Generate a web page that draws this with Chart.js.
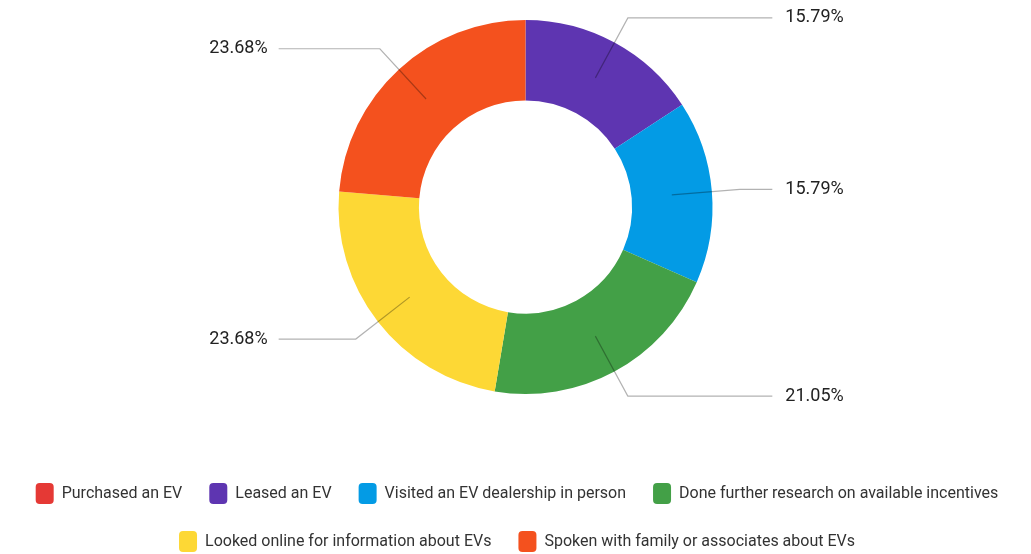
<!DOCTYPE html>
<html>
<head>
<meta charset="utf-8">
<title>EV actions</title>
<script src="https://cdn.jsdelivr.net/npm/chart.js@4.4.1/dist/chart.umd.min.js"></script>
<style>
  html, body { margin: 0; padding: 0; background: #fff; }
  #wrap { width: 1031px; height: 554px; }
</style>
</head>
<body>
<div id="wrap"><canvas id="ev-actions"></canvas></div>
<script>
const actions = [
  "Purchased an EV",
  "Leased an EV",
  "Visited an EV dealership in person",
  "Done further research on available incentives",
  "Looked online for information about EVs",
  "Spoken with family or associates about EVs"
];
// share of respondents, in %
const shares = [0, 15.79, 15.79, 21.05, 23.68, 23.68];
const colors = ["#e53935", "#5e35b1", "#039be5", "#43a047", "#fdd835", "#f4511e"];

// percentage labels with elbow leader lines
const leaderLabels = {
  id: "leaderLabels",
  afterDatasetsDraw(chart) {
    const ctx = chart.ctx;
    const meta = chart.getDatasetMeta(0);
    ctx.save();
    ctx.font = "18px Roboto";
    ctx.fillStyle = "#222";
    ctx.textBaseline = "middle";
    ctx.strokeStyle = "rgba(0,0,0,0.3)";
    ctx.lineWidth = 1.2;
    meta.data.forEach((arc, i) => {
      if (!shares[i]) return;
      const p = arc.getProps(["x", "y", "startAngle", "endAngle", "innerRadius", "outerRadius"], true);
      const mid = (p.startAngle + p.endAngle) / 2;
      const rStart = (p.innerRadius + p.outerRadius) / 2;
      const rElbow = p.outerRadius * 1.15;
      const right = Math.cos(mid) >= 0;
      const x0 = p.x + Math.cos(mid) * rStart, y0 = p.y + Math.sin(mid) * rStart;
      const x1 = p.x + Math.cos(mid) * rElbow, y1 = p.y + Math.sin(mid) * rElbow;
      const x2 = p.x + (right ? 1 : -1) * p.outerRadius * 1.32;
      ctx.beginPath();
      ctx.moveTo(x0, y0);
      ctx.lineTo(x1, y1);
      ctx.lineTo(x2, y1);
      ctx.stroke();
      ctx.textAlign = right ? "left" : "right";
      ctx.fillText(shares[i].toFixed(2) + "%", x2 + (right ? 13 : -11), y1);
    });
    ctx.restore();
  }
};

// push the legend rows down and a bit left, under the ring
const legendNudge = {
  id: "legendNudge",
  afterLayout(chart) {
    const lg = chart.legend;
    lg.top += 62; lg.bottom += 62;
    lg.left -= 13; lg.right -= 13;
  }
};

new Chart(document.getElementById("ev-actions"), {
  type: "doughnut",
  data: {
    labels: actions,
    datasets: [{
      data: shares,
      backgroundColor: colors,
      borderWidth: 0
    }]
  },
  options: {
    responsive: true,
    maintainAspectRatio: false,
    animation: false,
    cutout: "57%",
    layout: { padding: { top: 20, bottom: 54, left: 20, right: -9 } },
    plugins: {
      tooltip: { enabled: false },
      legend: {
        position: "bottom",
        labels: {
          font: { family: "Roboto", size: 16 },
          color: "#333",
          boxWidth: 18,
          boxHeight: 21,
          padding: 27,
          useBorderRadius: true,
          borderRadius: 4
        }
      }
    }
  },
  plugins: [leaderLabels, legendNudge]
});
</script>
</body>
</html>
